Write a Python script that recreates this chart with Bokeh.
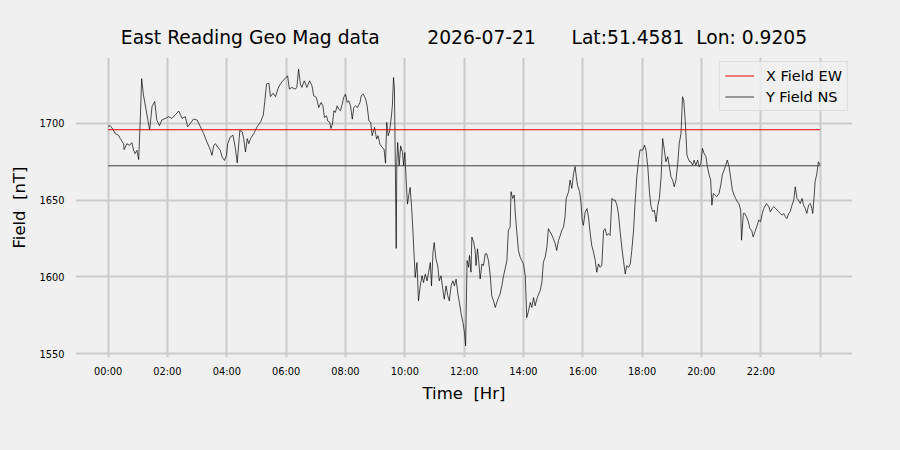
from bokeh.plotting import figure
from bokeh.models import Range1d, FixedTicker, Legend, LegendItem
from bokeh.embed import file_html
from bokeh.resources import INLINE

# ---- data ----
hours_a = [0.00,0.07,0.16,0.24,0.35,0.41,0.52,0.54,0.63,0.72,0.80,0.86,0.91,0.97,1.03,1.08,1.13,1.19,1.28,1.40,
           1.48,1.57,1.64,1.73,1.81,1.93,2.04,2.15,2.26,2.38,2.49,2.60,2.68,2.77,2.88,3.00,3.11,3.22,3.33,3.45,
           3.50,3.56,3.62,3.69,3.78,3.84,3.92,3.99,4.03,4.12,4.21,4.29,4.35,4.44,4.52,4.57,4.63,4.69,4.74,4.80,
           4.91,5.02,5.14,5.23,5.28,5.34,5.42,5.47,5.56,5.64,5.73,5.79,5.87,5.98]
field_a = [1698.2,1698.5,1696.3,1693.4,1692.3,1690.1,1686.8,1682.9,1686.8,1685.7,1687.5,1682.5,1680.3,1682.5,1676.5,1701.1,1729.2,1718.6,1708.8,1695.6,
           1711.0,1714.3,1702.2,1698.5,1702.2,1703.3,1704.4,1703.3,1705.5,1708.1,1703.3,1704.4,1697.8,1700.0,1702.9,1702.2,1697.8,1693.4,1687.9,1682.5,
           1679.2,1685.7,1686.8,1684.6,1682.5,1678.1,1675.9,1679.2,1686.8,1691.2,1692.3,1683.6,1674.3,1695.6,1694.5,1690.1,1681.4,1690.1,1686.8,1690.1,
           1693.4,1697.8,1701.1,1705.5,1714.3,1725.7,1726.3,1717.5,1719.7,1717.5,1723.0,1725.2,1727.4,1729.6]

hours_b = [6.05,6.11,6.19,6.31,6.36,6.42,6.48,6.53,6.61,6.70,6.79,6.87,6.93,7.02,7.10,7.18,7.24,7.29,7.36,7.40,
           7.47,7.51,7.56,7.61,7.66,7.72,7.77,7.83,7.89,7.94,8.00,8.06,8.11,8.17,8.23,8.28,8.34,8.40,8.49,8.53,
           8.60,8.68,8.73,8.79,8.85,8.90,8.98,9.05,9.10,9.16,9.24,9.30,9.35,9.39,9.44,9.49,9.55,9.58,9.62,9.65,
           9.68,9.71,9.73,9.76,9.81,9.86,9.92,9.96,10.00,10.05,10.09,10.15,10.18,10.23,10.27,10.32,10.35,10.41,10.46,10.52,
           10.58,10.63,10.69,10.75,10.80,10.86,10.90,10.95,10.99,11.05,11.11,11.16,11.22,11.28,11.33,11.39,11.45,11.50,11.56,11.62,
           11.67,11.73,11.79,11.84,11.90,11.96,12.01,12.05,12.07]
field_b = [1731.1,1722.4,1723.5,1722.4,1723.5,1735.4,1725.7,1723.5,1727.8,1723.5,1727.8,1724.6,1718.0,1717.0,1710.4,1713.7,1711.5,1703.9,1705.0,1701.7,
           1700.7,1696.7,1699.6,1708.3,1707.2,1711.5,1709.3,1708.3,1712.6,1717.0,1719.1,1713.7,1714.8,1711.5,1702.8,1710.4,1711.5,1710.4,1713.7,1718.0,
           1719.1,1715.9,1711.5,1701.7,1700.7,1692.0,1697.4,1689.8,1692.0,1686.5,1684.3,1683.3,1674.1,1700.7,1692.0,1695.2,1705.0,1711.5,1730.0,1722.4,
           1672.4,1618.5,1674.6,1687.6,1672.4,1685.4,1681.1,1672.4,1681.1,1661.5,1647.4,1655.0,1658.3,1645.2,1631.1,1611.5,1599.6,1609.3,1584.3,1594.1,
           1600.7,1596.3,1601.7,1597.4,1602.8,1609.3,1594.1,1615.9,1622.4,1611.5,1607.2,1597.4,1600.7,1592.0,1585.4,1594.1,1587.6,1584.3,1594.1,1597.4,
           1594.1,1598.5,1588.7,1583.3,1575.7,1570.2,1563.7,1555.0,1579.0]

hours_c = [12.10,12.15,12.18,12.23,12.26,12.32,12.37,12.40,12.45,12.49,12.54,12.60,12.65,12.71,12.76,12.82,12.88,12.93,12.99,13.05,
           13.10,13.16,13.21,13.27,13.33,13.38,13.44,13.49,13.55,13.58,13.64,13.69,13.72,13.78,13.83,13.89,13.94,14.00,14.06,14.11,
           14.17,14.23,14.28,14.34,14.39,14.45,14.51,14.56,14.62,14.67,14.73,14.79,14.84,14.90,14.96,15.01,15.07,15.12,15.18,15.24,
           15.29,15.35,15.40,15.44,15.48,15.52,15.57,15.63,15.69,15.74,15.78,15.82,15.89,15.93,15.98,16.02,16.08,16.14,16.19,16.25,
           16.30,16.36,16.42,16.47,16.53,16.58,16.64,16.70,16.75,16.81,16.87,16.92,16.98,17.03,17.09,17.15,17.20,17.26,17.32,17.37,
           17.43,17.48,17.54,17.60,17.65,17.71,17.76,17.82,17.88,17.93]
field_c = [1610.6,1606.2,1613.9,1603.0,1625.9,1622.6,1617.2,1607.3,1618.3,1610.6,1598.6,1608.4,1607.3,1615.0,1615.0,1610.6,1600.8,1587.6,1584.4,1580.0,
           1583.3,1586.5,1588.7,1594.2,1600.8,1605.1,1610.6,1630.3,1632.5,1655.5,1651.1,1653.3,1642.3,1628.1,1617.2,1612.8,1610.6,1608.4,1600.8,1573.4,
           1577.8,1583.3,1580.0,1586.5,1581.1,1585.4,1588.7,1590.9,1596.4,1609.5,1612.8,1619.4,1631.4,1629.2,1627.0,1624.8,1621.6,1617.2,1623.7,1627.0,
           1630.3,1632.5,1639.1,1651.1,1653.3,1655.5,1663.1,1657.7,1667.5,1671.9,1665.3,1659.8,1655.5,1650.0,1636.9,1633.6,1642.3,1644.5,1639.1,1628.1,
           1620.5,1616.1,1610.6,1603.0,1608.4,1606.2,1607.3,1630.3,1631.4,1627.0,1628.1,1627.0,1651.1,1650.0,1650.0,1646.7,1641.2,1629.2,1618.3,1610.6,
           1601.9,1607.3,1606.2,1608.4,1617.2,1630.3,1647.8,1665.3,1676.3,1682.8]

hours_d = [18.02,18.08,18.13,18.19,18.25,18.30,18.36,18.41,18.47,18.53,18.58,18.64,18.69,18.75,18.80,18.86,18.92,18.97,19.03,19.08,
           19.14,19.20,19.25,19.31,19.36,19.40,19.45,19.51,19.55,19.60,19.64,19.70,19.75,19.81,19.87,19.92,19.98,20.03,20.09,20.15,
           20.20,20.26,20.31,20.35,20.40,20.45,20.51,20.59,20.65,20.70,20.76,20.82,20.87,20.93,20.98,21.04,21.10,21.15,21.21,21.26,
           21.32,21.35,21.41,21.46,21.52,21.58,21.63,21.69,21.74,21.80,21.86,21.93,21.99,22.05,22.10,22.19,22.27,22.32,22.38,22.44,
           22.49,22.55,22.60,22.66,22.72,22.77,22.83,22.88,22.94,22.99,23.05,23.11,23.16,23.22,23.27,23.33,23.39,23.44,23.50,23.55,
           23.61,23.67,23.72,23.75,23.80,23.83,23.89,23.94,24.00]
field_d = [1682.6,1685.9,1682.6,1671.7,1654.3,1645.7,1642.4,1643.5,1635.9,1646.7,1651.1,1665.2,1690.2,1682.6,1675.0,1678.3,1671.7,1665.2,1663.0,1658.7,
           1663.0,1673.9,1687.0,1693.5,1717.4,1715.2,1702.2,1679.3,1677.2,1675.0,1675.0,1672.8,1676.1,1672.8,1676.1,1671.7,1673.9,1683.7,1680.4,1678.3,
           1671.7,1666.3,1663.0,1646.7,1654.3,1653.3,1652.2,1654.3,1659.8,1666.3,1669.6,1672.8,1676.1,1671.7,1665.2,1656.5,1653.3,1651.1,1648.9,1647.8,
           1643.5,1623.9,1641.3,1641.3,1639.1,1635.9,1631.5,1630.4,1626.1,1629.3,1632.6,1637.0,1635.9,1641.3,1644.6,1647.8,1645.7,1642.4,1644.6,1645.7,
           1644.6,1643.5,1642.4,1641.3,1640.2,1641.3,1639.1,1638.0,1641.3,1642.4,1646.7,1650.0,1658.7,1651.1,1650.0,1647.8,1651.1,1646.7,1644.6,1641.3,
           1646.7,1647.8,1644.6,1641.3,1653.3,1662.0,1667.4,1675.0,1672.8]

hours = hours_a + hours_b + hours_c + hours_d
field_trace = field_a + field_b + field_c + field_d

x_field_ew = 1695.9   # constant level, X Field EW
y_field_ns = 1672.4   # constant level, Y Field NS

tick_hours = [0, 2, 4, 6, 8, 10, 12, 14, 16, 18, 20, 22, 24]
tick_labels = ["00:00", "02:00", "04:00", "06:00", "08:00", "10:00", "12:00",
               "14:00", "16:00", "18:00", "20:00", "22:00", ""]
y_ticks = [1550, 1600, 1650, 1700]

NB = "\u00a0"  # keeps runs of spaces visible in the SVG text
title_text = ("East Reading Geo Mag data" + NB * 8 + "2026-07-21" + NB * 6 +
              "Lat:51.4581" + NB * 2 + "Lon: 0.9205")
x_label = "Time" + NB * 2 + "[Hr]"
y_label = "Field" + NB * 2 + "[nT]"

FONT = "DejaVu Sans"
BG = "#f0f0f0"

p = figure(width=900, height=450, output_backend="svg", toolbar_location=None,
           x_range=Range1d(-1.10, 25.09), y_range=Range1d(1547.4, 1743.0),
           min_border_left=75, min_border_right=48, min_border_top=57, min_border_bottom=93,
           background_fill_color=BG, border_fill_color=BG)
p.outline_line_color = None

p.title.text = title_text
p.title.align = "center"
p.title.text_font = FONT
p.title.text_font_size = "18.7px"
p.title.text_font_style = "normal"
p.title.text_color = "#000000"
p.title.standoff = 19

# grids
for g in (p.xgrid, p.ygrid):
    g.grid_line_color = "#cbcbcb"
    g.grid_line_width = 2
p.xaxis.ticker = FixedTicker(ticks=tick_hours)
p.yaxis.ticker = FixedTicker(ticks=y_ticks)
p.xaxis.major_label_overrides = {t: l for t, l in zip(tick_hours, tick_labels)}

for ax in (p.xaxis, p.yaxis):
    ax.axis_line_color = None
    ax.major_tick_line_color = None
    ax.minor_tick_line_color = None
    ax.major_tick_out = 0
    ax.major_tick_in = 0
    ax.minor_tick_out = 0
    ax.major_label_text_font = FONT
    ax.major_label_text_font_size = "9.8px"
    ax.major_label_text_color = "#000000"
    ax.axis_label_text_font = FONT
    ax.axis_label_text_font_size = "16.5px"
    ax.axis_label_text_font_style = "normal"
    ax.axis_label_text_color = "#000000"

p.xaxis.axis_label = x_label
p.yaxis.axis_label = y_label
p.xaxis.major_label_standoff = 8
p.yaxis.major_label_standoff = 11
p.xaxis.axis_label_standoff = 4
p.yaxis.axis_label_standoff = 8

# the trace
p.line(hours, field_trace, line_color="#000000", line_width=0.7)

# constant level lines across the day
span_x = [hours[0], hours[-1]]
r_x = p.line(span_x, [x_field_ew, x_field_ew], line_color="#e00000", line_width=1.0)
r_y = p.line(span_x, [y_field_ns, y_field_ns], line_color="#404040", line_width=1.0)

legend = Legend(items=[LegendItem(label="X Field EW", renderers=[r_x]),
                       LegendItem(label="Y Field NS", renderers=[r_y])],
                location="top_right")
legend.margin = 4
legend.padding = 5
legend.spacing = 4
legend.glyph_width = 29
legend.glyph_height = 17
legend.label_standoff = 12
legend.label_text_font = FONT
legend.label_text_font_size = "14.5px"
legend.label_text_color = "#000000"
legend.background_fill_color = BG
legend.background_fill_alpha = 0.8
legend.border_line_color = "#cccccc"
legend.border_line_width = 1
p.add_layout(legend)

html = file_html(p, INLINE)
html = html.replace("</head>", "<style>body{background:#f0f0f0;}</style></head>", 1)
open("out.html", "w").write(html)
